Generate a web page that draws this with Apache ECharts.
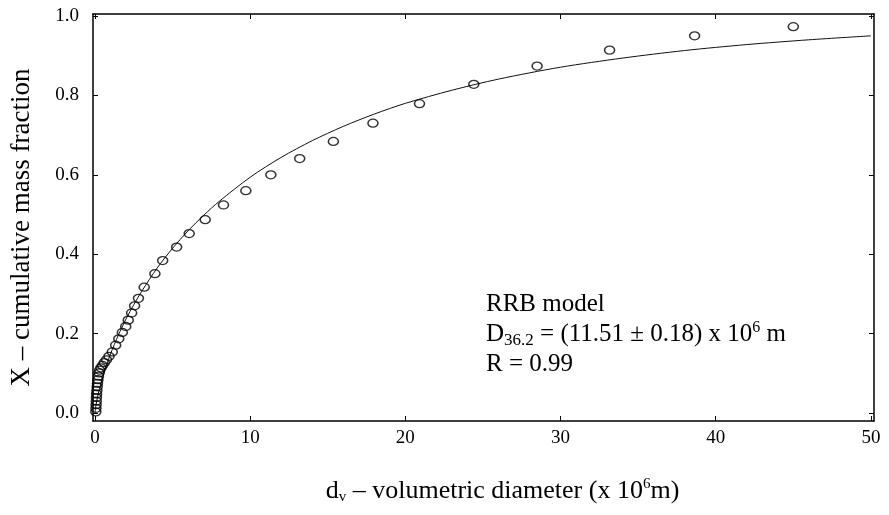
<!DOCTYPE html>
<html>
<head>
<meta charset="utf-8">
<script src="https://cdn.jsdelivr.net/npm/echarts@6/dist/echarts.min.js"></script>
<style>
  html, body { margin: 0; padding: 0; background: #fff; }
  #main { width: 889px; height: 515px; }
</style>
</head>
<body>
<div id="main"></div>
<script>
// measured points: volumetric diameter (x 10^6 m) vs cumulative mass fraction
const diameter = [0.05, 0.06, 0.07, 0.08, 0.09, 0.1, 0.12, 0.14, 0.16, 0.19, 0.22, 0.26, 0.3, 0.38, 0.48,
    0.6, 0.74, 0.9, 1.11, 1.33, 1.53, 1.76, 1.98, 2.14, 2.36, 2.55, 2.8, 3.17, 3.86, 4.36, 5.26,
    6.07, 7.1, 8.28, 9.72, 11.33, 13.19, 15.36, 17.91, 20.91, 24.41, 28.49, 33.16, 38.64, 45.0];
const massFraction = [0.003, 0.012, 0.021, 0.03, 0.039, 0.048, 0.057, 0.066, 0.075, 0.084, 0.093, 0.101, 0.108, 0.114, 0.12,
    0.127, 0.134, 0.143, 0.154, 0.171, 0.187, 0.203, 0.218, 0.234, 0.252, 0.27, 0.289, 0.317, 0.351, 0.384, 0.418,
    0.452, 0.487, 0.524, 0.56, 0.6, 0.641, 0.684, 0.73, 0.779, 0.828, 0.874, 0.914, 0.95, 0.973];

// RRB model curve
const curveD = [0, 0.05, 0.1, 0.2, 0.3, 0.5, 0.75, 1, 1.5, 2, 2.5, 3, 4, 5, 6, 7, 8, 10, 12, 14, 16, 18, 20,
    23, 26, 30, 34, 38, 42, 46, 50];
const curveX = [0, 0.017, 0.028, 0.047, 0.063, 0.091, 0.122, 0.149, 0.196, 0.237, 0.273, 0.306, 0.365, 0.415,
    0.459, 0.498, 0.533, 0.594, 0.644, 0.686, 0.722, 0.753, 0.78, 0.813, 0.841, 0.871, 0.894, 0.913, 0.928, 0.94, 0.95];

const xTicks = [0, 10, 20, 30, 40, 50];
const yTicks = [0, 0.2, 0.4, 0.6, 0.8, 1.0];

const font = 'Liberation Serif';

let chart = echarts.init(document.getElementById('main'));

// 坐标轴公共样式
function axisBase(ticks) {
    return {
        type: 'value',
        axisLine: { show: true, onZero: false, lineStyle: { color: '#000', width: 1.5 } },
        axisTick: { show: true, inside: true, length: 5, customValues: ticks, lineStyle: { color: '#000', width: 1 } },
        splitLine: { show: false }
    };
}

let xBottom = Object.assign(axisBase(xTicks), {
    position: 'bottom', min: -0.13, max: 50.2,
    axisLabel: { customValues: xTicks, color: '#000', fontFamily: font, fontSize: 19, margin: 8 },
    name: '{t|d}{sub|v}{t| – volumetric diameter (x 10}{sup|6}{t|m)}',
    nameLocation: 'middle', nameGap: 56,
    nameTextStyle: {
        padding: [0, 0, 0, 38],
        rich: {
            t: { fontFamily: font, fontSize: 26, color: '#000', lineHeight: 28 },
            sub: { fontFamily: font, fontSize: 15, color: '#000', lineHeight: 13, verticalAlign: 'bottom' },
            sup: { fontFamily: font, fontSize: 15, color: '#000', lineHeight: 14, verticalAlign: 'top' }
        }
    }
});
let xTop = Object.assign(axisBase(xTicks), {
    position: 'top', min: -0.13, max: 50.2, axisLabel: { show: false }
});
let yLeft = Object.assign(axisBase(yTicks), {
    position: 'left', min: -0.02, max: 1.005,
    axisLabel: { customValues: yTicks, color: '#000', fontFamily: font, fontSize: 19, margin: 14,
        formatter: v => v.toFixed(1) },
    name: 'X – cumulative mass fraction',
    nameLocation: 'middle', nameGap: 58,
    nameTextStyle: { color: '#000', fontFamily: font, fontSize: 27, padding: [0, 20, 0, 0] }
});
let yRight = Object.assign(axisBase(yTicks), {
    position: 'right', min: -0.02, max: 1.005, axisLabel: { show: false }
});

let option = {
    animation: false,
    backgroundColor: '#fff',
    grid: { left: 92, right: 15, top: 14, bottom: 94, containLabel: false },
    xAxis: [xBottom, xTop],
    yAxis: [yLeft, yRight],
    series: [
        {
            name: 'RRB model',
            type: 'line',
            data: curveD.map((d, i) => [d, curveX[i]]),
            showSymbol: false,
            smooth: 0.3,
            lineStyle: { color: '#111', width: 1 },
            z: 2
        },
        {
            name: 'data',
            type: 'scatter',
            data: diameter.map((d, i) => [d, massFraction[i]]),
            symbol: 'circle',
            symbolSize: [10, 8],
            itemStyle: { color: 'rgba(255,255,255,0)', borderColor: '#000', borderWidth: 1.4 },
            z: 3
        }
    ],
    graphic: [
        {
            type: 'text',
            left: 486,
            top: 292,
            style: {
                text: '{n|RRB model}\n{n|D}{sub|36.2}{n| = (11.51 ± 0.18) x 10}{sup|6}{n| m}\n{n|R = 0.99}',
                fill: '#000',
                rich: {
                    n: { fontFamily: font, fontSize: 25, lineHeight: 30, fill: '#000' },
                    sub: { fontFamily: font, fontSize: 17, lineHeight: 17, verticalAlign: 'bottom', fill: '#000' },
                    sup: { fontFamily: font, fontSize: 16, lineHeight: 16, verticalAlign: 'top', fill: '#000' }
                }
            }
        }
    ]
};

chart.setOption(option);
</script>
</body>
</html>
